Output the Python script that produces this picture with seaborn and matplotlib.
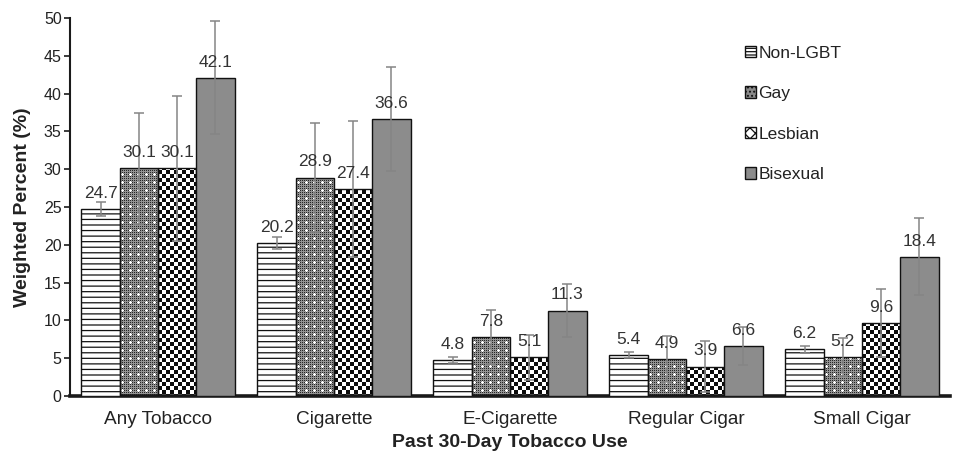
import numpy as np
import pandas as pd
import matplotlib
matplotlib.use("Agg")
import matplotlib.pyplot as plt
from matplotlib.patches import Patch, PathPatch
from matplotlib.path import Path
import seaborn as sns

categories = ["Any Tobacco", "Cigarette", "E-Cigarette", "Regular Cigar", "Small Cigar"]
groups = ["Non-LGBT", "Gay", "Lesbian", "Bisexual"]

non_lgbt = [24.7, 20.2, 4.8, 5.4, 6.2]
gay = [30.1, 28.9, 7.8, 4.9, 5.2]
lesbian = [30.1, 27.4, 5.1, 3.9, 9.6]
bisexual = [42.1, 36.6, 11.3, 6.6, 18.4]

# half-widths of the 95% confidence intervals
non_lgbt_err = [0.9, 0.8, 0.4, 0.4, 0.45]
gay_err = [7.3, 7.2, 3.6, 3.0, 2.5]
lesbian_err = [9.6, 9.0, 3.0, 3.4, 4.5]
bisexual_err = [7.5, 6.9, 3.5, 2.5, 5.1]

values = [non_lgbt, gay, lesbian, bisexual]
errors = [non_lgbt_err, gay_err, lesbian_err, bisexual_err]

df = pd.DataFrame({
    "Tobacco": np.tile(categories, len(groups)),
    "Group": np.repeat(groups, len(categories)),
    "Percent": np.concatenate(values),
})

sns.set_theme(style="white")
plt.rcParams["font.family"] = ["Liberation Sans", "DejaVu Sans"]
plt.rcParams["hatch.linewidth"] = 0.9

fig = plt.figure(figsize=(9.58, 4.58), dpi=100)
ax = fig.add_axes([70 / 958, 62 / 458, 880 / 958, 378 / 458])

palette = {"Non-LGBT": "white", "Gay": "#8a8a8a", "Lesbian": "white", "Bisexual": "#8c8c8c"}
sns.barplot(data=df, x="Tobacco", y="Percent", hue="Group", order=categories,
            hue_order=groups, palette=palette, width=0.87, errorbar=None,
            edgecolor="#111111", linewidth=1.0, legend=False, ax=ax, saturation=1)

ax.set_xlim(-0.5, len(categories) - 0.5)
ax.set_ylim(0, 50)
xlim, ylim = ax.get_xlim(), ax.get_ylim()

# pixel-level fill patterns for the Gay and Lesbian bars
W, H = 880, 378
yy, xx = np.indices((H, W))
checker = np.where(((xx // 4) + (yy // 4)) % 2 == 0, 0.05, 1.0)
speckle = np.full((H, W), 0.58)
speckle[(xx % 2 == 0) & (yy % 2 == 0)] = 0.15
plus = ((xx % 8 == 4) & (np.abs(yy % 8 - 4) <= 1)) | ((yy % 8 == 4) & (np.abs(xx % 8 - 4) <= 1))
speckle[plus] = 1.0
patterns = {"Gay": speckle, "Lesbian": checker}

for gi, group in enumerate(groups):
    bars = ax.containers[gi]
    for bar in bars:
        bar.set_zorder(3)
    if group == "Non-LGBT":
        for bar in bars:
            bar.set_hatch("---")
    if group in patterns:
        verts, codes = [], []
        for bar in bars:
            x0, y0 = bar.get_x(), bar.get_y()
            w, h = bar.get_width(), bar.get_height()
            verts += [(x0, y0), (x0 + w, y0), (x0 + w, y0 + h), (x0, y0 + h), (x0, y0)]
            codes += [Path.MOVETO, Path.LINETO, Path.LINETO, Path.LINETO, Path.CLOSEPOLY]
            bar.set_facecolor("none")
        clip = PathPatch(Path(verts, codes), transform=ax.transData,
                         facecolor="none", edgecolor="none")
        ax.add_patch(clip)
        img = ax.imshow(patterns[group], cmap="gray", vmin=0, vmax=1,
                        interpolation="nearest", aspect="auto",
                        extent=(xlim[0], xlim[1], ylim[0], ylim[1]), zorder=2)
        img.set_clip_path(clip)

ax.set_xlim(xlim)
ax.set_ylim(ylim)

# error bars and value labels
for gi, group in enumerate(groups):
    bars = ax.containers[gi]
    centers = [b.get_x() + b.get_width() / 2 for b in bars]
    ax.errorbar(centers, values[gi], yerr=errors[gi], fmt="none",
                ecolor="#858585", elinewidth=1.1, capsize=3.5, capthick=1.1, zorder=4)
    for cx, v in zip(centers, values[gi]):
        ax.annotate(f"{v:.1f}", (cx, v), xytext=(0, 8), textcoords="offset points",
                    ha="center", va="baseline", fontsize=12.5, color="#333333", zorder=5)

sns.despine(ax=ax)
ax.spines["left"].set_linewidth(1.5)
ax.spines["left"].set_color("#1a1a1a")
ax.spines["bottom"].set_linewidth(2.6)
ax.spines["bottom"].set_color("#1a1a1a")
ax.set_yticks(np.arange(0, 51, 5))
ax.tick_params(axis="y", direction="out", length=4, width=1.2, color="#1a1a1a",
               labelsize=11.5, labelcolor="#222222", left=True, pad=2)
ax.tick_params(axis="x", length=0, labelsize=13.7, labelcolor="#222222", pad=11)

ax.set_xlabel("Past 30-Day Tobacco Use", fontsize=14, fontweight="bold",
              color="#222222", labelpad=4)
ax.set_ylabel("Weighted Percent (%)", fontsize=14, fontweight="bold",
              color="#222222", labelpad=9)

handles = [
    Patch(facecolor="white", edgecolor="#111111", hatch="-----", label="Non-LGBT"),
    Patch(facecolor="#8a8a8a", edgecolor="#111111", hatch="....", label="Gay"),
    Patch(facecolor="white", edgecolor="#111111", hatch="xxx", label="Lesbian"),
    Patch(facecolor="#8c8c8c", edgecolor="#111111", label="Bisexual"),
]
ax.legend(handles=handles, loc="upper left", bbox_to_anchor=(736 / 958, 1 - 37 / 458),
          bbox_transform=fig.transFigure, frameon=False, fontsize=12.5,
          handlelength=0.65, handleheight=0.65, handletextpad=0.15,
          labelspacing=1.47, borderpad=0, labelcolor="#222222")

fig.savefig("out.png", dpi=100)
